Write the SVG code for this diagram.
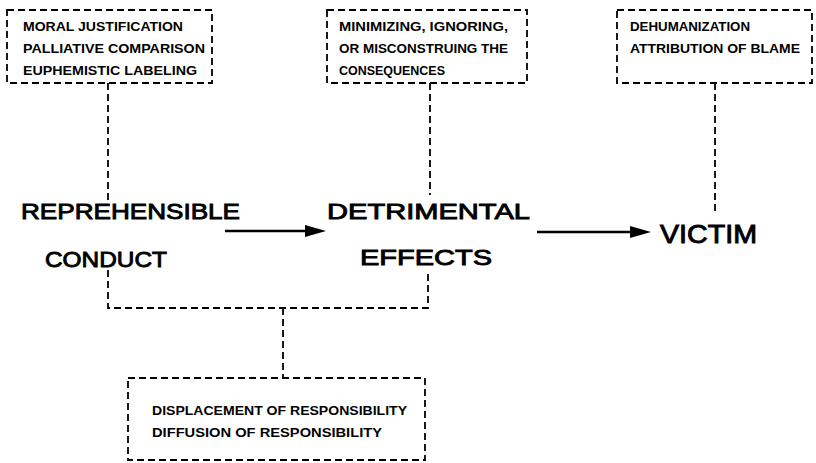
<svg xmlns="http://www.w3.org/2000/svg" width="816" height="463" viewBox="0 0 816 463">
<style>
.box{fill:none;stroke:#000;stroke-width:1.8;stroke-dasharray:7 4}
.dash{fill:none;stroke:#000;stroke-width:1.8;stroke-dasharray:7 4}
.arrow{fill:none;stroke:#000;stroke-width:2.4}
.small{font-family:"Liberation Sans",Arial,sans-serif;font-size:12.5px;font-weight:bold;fill:#000}
.big{font-family:"Liberation Sans",Arial,sans-serif;font-size:22.5px;fill:#000;stroke:#000;stroke-width:0.9}
.victim{font-family:"Liberation Sans",Arial,sans-serif;font-size:25px;fill:#000;stroke:#000;stroke-width:0.9}
</style>
<g id="connectors">
<path class="dash" d="M108,83 V200"/>
<path class="dash" d="M430,83 V195"/>
<path class="dash" d="M715,83 V213"/>
<path class="dash" d="M108,270 V308 H428 V270"/>
<path class="dash" d="M283,308 V378"/>
<line class="arrow" x1="225" y1="231" x2="310" y2="231"/>
<path d="M305,225 L326,231 L305,237 Z" fill="#000"/>
<line class="arrow" x1="537" y1="232" x2="635" y2="232"/>
<path d="M630,226 L651,232 L630,238 Z" fill="#000"/>
</g>
<g id="box-moral">
<rect class="box" x="7" y="10" width="205" height="73"/>
<text class="small" x="23" y="31" textLength="160" lengthAdjust="spacingAndGlyphs">MORAL JUSTIFICATION</text>
<text class="small" x="23" y="53" textLength="182" lengthAdjust="spacingAndGlyphs">PALLIATIVE COMPARISON</text>
<text class="small" x="23" y="75" textLength="174" lengthAdjust="spacingAndGlyphs">EUPHEMISTIC LABELING</text>
</g>
<g id="box-minimizing">
<rect class="box" x="327" y="10" width="200" height="73"/>
<text class="small" x="339" y="31" textLength="169" lengthAdjust="spacingAndGlyphs">MINIMIZING, IGNORING,</text>
<text class="small" x="339" y="53" textLength="169" lengthAdjust="spacingAndGlyphs">OR MISCONSTRUING THE</text>
<text class="small" x="339" y="75" textLength="106" lengthAdjust="spacingAndGlyphs">CONSEQUENCES</text>
</g>
<g id="box-dehumanization">
<rect class="box" x="617" y="10" width="195" height="73"/>
<text class="small" x="630" y="31" textLength="120" lengthAdjust="spacingAndGlyphs">DEHUMANIZATION</text>
<text class="small" x="630" y="53" textLength="170" lengthAdjust="spacingAndGlyphs">ATTRIBUTION OF BLAME</text>
</g>
<g id="box-displacement">
<rect class="box" x="128" y="378" width="297" height="82"/>
<text class="small" x="152" y="415" textLength="255" lengthAdjust="spacingAndGlyphs">DISPLACEMENT OF RESPONSIBILITY</text>
<text class="small" x="152" y="437" textLength="230" lengthAdjust="spacingAndGlyphs">DIFFUSION OF RESPONSIBILITY</text>
</g>
<g id="node-conduct">
<text class="big" x="21" y="219" textLength="219" lengthAdjust="spacingAndGlyphs">REPREHENSIBLE</text>
<text class="big" x="45" y="267" textLength="122" lengthAdjust="spacingAndGlyphs">CONDUCT</text>
</g>
<g id="node-effects">
<text class="big" x="327" y="219" textLength="203" lengthAdjust="spacingAndGlyphs">DETRIMENTAL</text>
<text class="big" x="360" y="265" textLength="132" lengthAdjust="spacingAndGlyphs">EFFECTS</text>
</g>
<g id="node-victim">
<text class="victim" x="660" y="243" textLength="97" lengthAdjust="spacingAndGlyphs">VICTIM</text>
</g>
</svg>
